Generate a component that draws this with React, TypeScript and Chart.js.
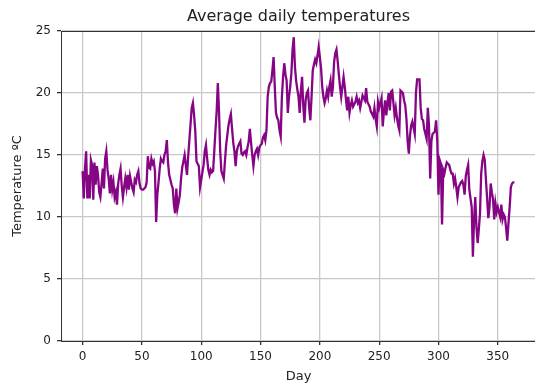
import React, { useEffect, useRef } from "react";
import { Chart, registerables } from "chart.js";

Chart.register(...registerables);

const temps = [
  13.7, 11.5, 13.9, 15.3, 11.5, 13.4, 11.5, 14.6, 14.2, 11.4,
  14.4, 12.6, 14.1, 13.4, 12.0, 11.6, 12.7, 13.9, 12.3, 14.7,
  15.3, 13.8, 13.1, 11.9, 13.4, 12.2, 12.8, 11.6, 12.0, 11.0,
  12.7, 13.4, 13.9, 12.5, 11.6, 12.4, 13.1, 12.4, 13.4, 12.2,
  13.3, 12.8, 12.3, 12.0, 13.0, 12.8, 13.4, 13.7, 12.7, 12.3,
  12.2, 12.2, 12.3, 12.4, 12.8, 14.9, 14.0, 13.9, 14.7, 14.3,
  14.5, 13.7, 9.6, 11.8, 12.8, 13.9, 14.7, 14.5, 14.4, 15.0,
  15.3, 16.2, 14.4, 13.4, 13.0, 12.6, 12.3, 11.0, 10.3, 12.3,
  10.7, 11.2, 11.8, 13.1, 14.0, 14.5, 15.0, 14.2, 13.4, 14.9,
  16.2, 17.5, 18.8, 19.2, 18.2, 16.9, 14.5, 14.3, 14.1, 12.4,
  13.0, 13.6, 14.2, 15.3, 15.8, 14.7, 13.8, 13.4, 13.8, 13.6,
  13.7, 15.3, 17.0, 18.5, 20.8, 18.5, 15.3, 13.7, 13.4, 13.1,
  14.5, 15.8, 16.6, 17.4, 17.9, 18.3, 17.1, 16.0, 15.3, 14.1,
  15.3, 15.7, 15.9, 16.1, 15.1, 15.0, 15.2, 15.3, 15.0, 15.6,
  16.1, 17.1, 16.0, 15.0, 14.1, 15.0, 15.3, 15.5, 15.0, 15.6,
  15.8, 15.9, 16.4, 16.6, 16.2, 17.0, 19.7, 20.5, 20.8, 20.9,
  21.8, 22.9, 20.5, 18.4, 18.0, 17.8, 17.0, 16.5, 19.7, 21.3,
  22.4, 21.5, 21.0, 18.4, 19.7, 20.5, 21.6, 23.5, 24.5, 22.1,
  21.0, 20.3, 19.7, 18.4, 20.2, 21.3, 19.0, 17.6, 19.4, 20.0,
  20.2, 18.8, 17.8, 19.7, 21.8, 22.3, 22.7, 22.4, 23.0, 23.7,
  22.9, 22.0, 20.5, 19.7, 19.2, 19.6, 20.2, 19.7, 20.5, 21.0,
  19.7, 20.5, 22.5, 23.2, 23.5, 22.6, 21.5, 20.5, 19.7, 20.5,
  21.3, 20.5, 19.5, 18.6, 19.7, 18.4, 19.0, 19.4, 18.9, 19.1,
  19.3, 19.7, 19.2, 19.4, 18.8, 19.3, 19.8, 19.6, 19.4, 20.4,
  19.3, 19.1, 18.9, 18.5, 18.3, 18.1, 18.8, 17.9, 17.3, 19.3,
  18.8, 19.2, 19.6, 17.3, 18.5, 19.4, 18.2, 19.2, 20.0, 18.6,
  20.1, 20.2, 19.2, 18.2, 18.8, 18.0, 17.4, 17.0, 20.2, 20.1,
  20.0, 19.4, 19.0, 17.9, 16.1, 15.1, 16.6, 17.4, 17.7, 17.2,
  16.7, 20.0, 21.1, 21.1, 21.1, 18.8, 17.9, 17.8, 17.1, 16.7,
  16.3, 18.8, 17.4, 13.1, 16.1, 16.7, 16.8, 16.9, 17.8, 16.1,
  11.8, 14.6, 14.3, 9.4, 13.8, 13.5, 14.0, 14.4, 14.3, 14.2,
  13.8, 13.5, 13.5, 12.7, 13.1, 12.4, 11.6, 12.4, 12.6, 12.8,
  12.9, 12.6, 11.8, 13.3, 13.8, 14.2, 12.2, 11.5, 10.8, 6.8,
  9.8, 11.6, 9.2, 7.9, 9.0, 10.3, 13.5, 14.5, 15.0, 14.6,
  13.0, 11.5, 9.9, 10.8, 12.7, 12.0, 11.4, 9.8, 11.1, 10.4,
  10.8, 10.4, 10.0, 11.0, 9.8, 10.2, 10.0, 9.1, 8.1, 9.5,
  10.8, 12.4, 12.7, 12.8, 12.8,
];
const days = temps.map((_, i) => i);
const xTicks = [0, 50, 100, 150, 200, 250, 300, 350];
const yTicks = [0, 5, 10, 15, 20, 25];
const titleText = "Average daily temperatures";
const xLabel = "Day";
const yLabel = "Temperature ºC";

export default function App() {
  const ref = useRef<HTMLCanvasElement>(null);

  useEffect(() => {
    if (!ref.current) return;
    const family = '"DejaVu Sans", sans-serif';
    const textColor = "#222";
    const frame = {
      id: "frame",
      afterDraw(chart: any) {
        const { ctx, chartArea: a } = chart;
        ctx.save();
        ctx.strokeStyle = "#333";
        ctx.lineWidth = 1;
        ctx.strokeRect(Math.round(a.left) + 0.5, Math.round(a.top) + 0.5, Math.round(a.right - a.left), Math.round(a.bottom - a.top));
        ctx.fillStyle = textColor;
        ctx.font = `16px ${family}`;
        ctx.textAlign = "center";
        ctx.textBaseline = "middle";
        ctx.fillText(titleText, (a.left + a.right) / 2, 17);
        ctx.restore();
      },
    };
    const chart = new Chart(ref.current, {
      type: "line",
      data: {
        datasets: [
          {
            data: days.map((d, i) => ({ x: d, y: temps[i] })),
            borderColor: "#850585",
            borderWidth: 2.3,
            pointRadius: 0,
            tension: 0,
            fill: false,
          },
        ],
      },
      options: {
        responsive: false,
        animation: false,
        layout: { padding: { top: 31, right: 5, left: 0, bottom: 0 } },
        plugins: {
          legend: { display: false },
          tooltip: { enabled: false },
          title: { display: false },
        },
        scales: {
          x: {
            type: "linear",
            min: -18.2,
            max: 382.2,
            afterBuildTicks: (s: any) => {
              s.ticks = xTicks.map((v) => ({ value: v }));
            },
            afterFit: (s: any) => {
              s.height = 46;
            },
            grid: { color: "#c8c8c8", lineWidth: 1.3, tickColor: "#333", tickLength: 4 },
            border: { color: "#333", width: 1 },
            ticks: { font: { family, size: 12 }, color: textColor, padding: 5, maxRotation: 0, autoSkip: false },
            title: { display: true, text: xLabel, font: { family, size: 13 }, color: textColor, padding: { top: 0, bottom: 3 } },
          },
          y: {
            type: "linear",
            min: 0,
            max: 25,
            afterBuildTicks: (s: any) => {
              s.ticks = yTicks.map((v) => ({ value: v }));
            },
            afterFit: (s: any) => {
              s.width = 61;
            },
            grid: { color: "#c8c8c8", lineWidth: 1.3, tickColor: "#333", tickLength: 4 },
            border: { color: "#333", width: 1 },
            ticks: { font: { family, size: 12 }, color: textColor, padding: 6 },
            title: { display: true, text: yLabel, font: { family, size: 13 }, color: textColor, padding: { top: 10, bottom: 0 } },
          },
        },
      },
      plugins: [frame],
    } as any);
    return () => chart.destroy();
  }, []);

  return (
    <div style={{ position: "fixed", left: 0, top: 0, width: 535, height: 387, overflow: "hidden", background: "#fff" }}>
      <canvas ref={ref} width={541} height={387} style={{ display: "block" }} />
    </div>
  );
}
